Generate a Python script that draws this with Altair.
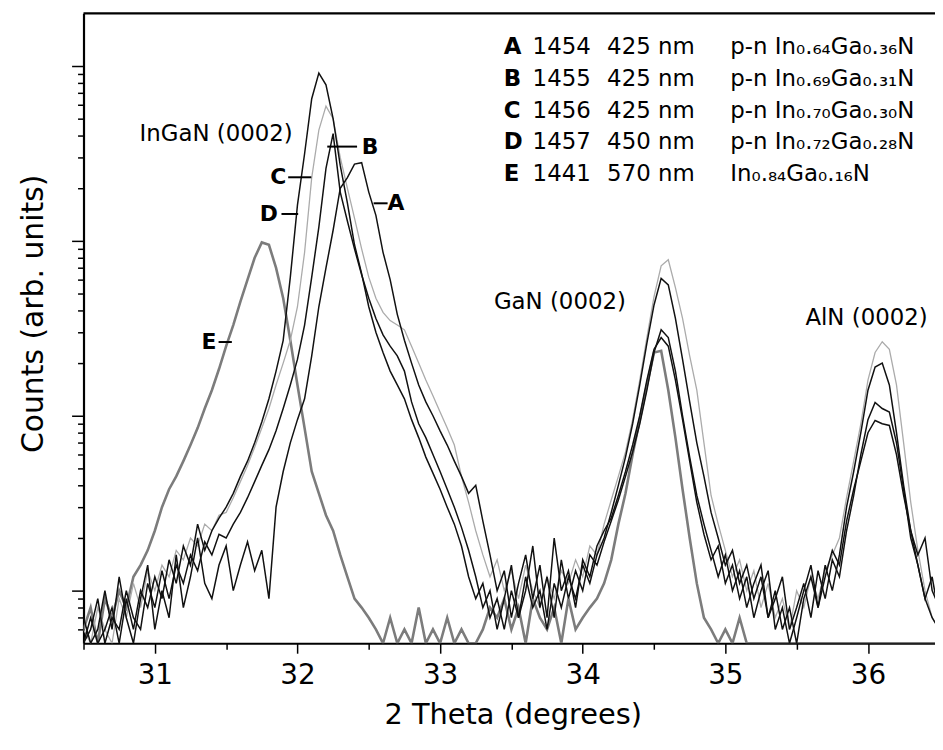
import altair as alt
import pandas as pd

# ---------------- data ----------------
theta = [
    30.50, 30.55, 30.60, 30.65, 30.70, 30.75, 30.80, 30.85, 30.90, 30.95,
    31.00, 31.05, 31.10, 31.15, 31.20, 31.25, 31.30, 31.35, 31.40, 31.45,
    31.50, 31.55, 31.60, 31.65, 31.70, 31.75, 31.80, 31.85, 31.90, 31.95,
    32.00, 32.05, 32.10, 32.15, 32.20, 32.25, 32.30, 32.35, 32.40, 32.45,
    32.50, 32.55, 32.60, 32.65, 32.70, 32.75, 32.80, 32.85, 32.90, 32.95,
    33.00, 33.05, 33.10, 33.15, 33.20, 33.25, 33.30, 33.35, 33.40, 33.45,
    33.50, 33.55, 33.60, 33.65, 33.70, 33.75, 33.80, 33.85, 33.90, 33.95,
    34.00, 34.05, 34.10, 34.15, 34.20, 34.25, 34.30, 34.35, 34.40, 34.45,
    34.50, 34.55, 34.60, 34.65, 34.70, 34.75, 34.80, 34.85, 34.90, 34.95,
    35.00, 35.05, 35.10, 35.15, 35.20, 35.25, 35.30, 35.35, 35.40, 35.45,
    35.50, 35.55, 35.60, 35.65, 35.70, 35.75, 35.80, 35.85, 35.90, 35.95,
    36.00, 36.05, 36.10, 36.15, 36.20, 36.25, 36.30, 36.35, 36.40, 36.45,
    36.50,
]

counts_A = [
    7, 5, 6, 10, 6, 12, 7, 5, 9, 14,
    6, 10, 7, 16, 8, 12, 20, 11, 9, 14,
    18, 10, 14, 19, 13, 17, 9, 30, 48, 70,
    95, 125, 220, 420, 700, 1150, 2000, 2300, 2750, 2800,
    1900, 1400, 860, 600, 380, 270, 200, 150, 120, 100,
    82, 68, 55, 45, 36, 40, 25, 16, 10, 13,
    7, 11, 16, 9, 14, 7, 20, 10, 13, 8,
    15, 12, 18, 22, 26, 35, 48, 68, 100, 160,
    240, 280, 250, 160, 95, 55, 32, 21, 15, 18,
    11, 14, 9, 12, 7, 10, 13, 6, 8, 5,
    7, 10, 14, 8, 12, 17, 14, 25, 38, 55,
    80, 94, 90, 88, 60, 35, 22, 16, 20, 10,
    8,
]

counts_B = [
    5, 6, 9, 5, 7, 6, 10, 7, 6, 11,
    8, 13, 9, 14, 11, 16, 13, 19, 16, 21,
    20, 24, 28, 34, 42, 52, 64, 82, 110, 150,
    210, 330, 620, 1200, 2600, 4100, 1900, 1300, 900, 640,
    470, 360, 290, 250, 220, 180, 120, 90, 75, 60,
    48, 38, 30, 23, 17, 12, 8, 10, 6, 9,
    14, 7, 10, 18, 8, 12, 7, 15, 9, 13,
    10, 16, 14, 19, 25, 33, 45, 62, 90, 140,
    230, 310, 280, 180, 100, 58, 35, 24, 17, 12,
    16, 10, 13, 8, 11, 14, 7, 9, 12, 6,
    8, 11, 7, 13, 9, 15, 12, 22, 35, 60,
    95, 119, 110, 105, 70, 38, 20, 14, 9, 12,
    7,
]

counts_C = [
    6, 5, 8, 6, 5, 9, 7, 11, 8, 13,
    10, 14, 12, 17, 15, 20, 18, 24, 22, 27,
    28, 34, 42, 52, 66, 85, 110, 150, 200, 270,
    420, 860, 2300, 4300, 5900, 5000, 3000, 2000, 1350, 900,
    620, 470, 390, 350, 330, 310, 250, 200, 160, 130,
    105, 85, 68, 45, 32, 22, 16, 12, 15, 10,
    13, 9, 14, 10, 8, 12, 9, 13, 11, 15,
    12, 18, 16, 24, 33, 45, 62, 95, 160, 280,
    480, 720, 780, 540, 360, 220, 140, 70, 35, 24,
    17, 12, 15, 10, 13, 8, 11, 7, 9, 6,
    10, 8, 12, 9, 13, 16, 20, 34, 55, 90,
    160, 230, 265, 240, 150, 70, 32, 17, 10, 7,
    6,
]

counts_D = [
    5, 7, 5, 6, 8, 5, 9, 6, 10, 8,
    12, 9, 15, 11, 18, 14, 24, 17, 22, 26,
    30, 36, 45, 55, 70, 92, 125, 180, 270, 620,
    1600, 3150, 6500, 9100, 7800, 5000, 2700, 1650, 950, 650,
    420, 300, 230, 180, 150, 125, 95, 75, 58, 47,
    38, 30, 24, 18, 12, 9, 11, 7, 9, 6,
    10, 7, 12, 8, 10, 6, 11, 8, 12, 9,
    14, 11, 16, 20, 28, 40, 58, 90, 150, 260,
    430, 610, 560, 360, 210, 120, 70, 45, 28, 20,
    14, 17, 11, 14, 9, 12, 7, 10, 6, 8,
    5, 9, 12, 8, 14, 10, 16, 30, 48, 80,
    140, 190, 200, 150, 80, 40, 22, 14, 9, 7,
    6,
]

counts_E = [
    6, 8, 5, 9, 7, 10, 8, 12, 14, 17,
    22, 30, 38, 45, 55, 68, 85, 110, 140, 185,
    250, 330, 450, 600, 800, 980, 950, 700, 470, 270,
    150, 85, 48, 36, 27, 22, 16, 12, 9, 8,
    7, 6, 5, 7, 5, 6, 5, 8, 5, 6,
    5, 7, 5, 6, 5, 5, 6, 8, 7, 9,
    6, 8, 5, 9, 7, 6, 8, 5, 9, 6,
    7, 8, 9, 11, 15, 24, 36, 60, 95, 150,
    230, 235, 140, 75, 38, 20, 11, 7, 6, 5,
    6, 5, 7, 5, 5, 5, 5, 5, 5, 5,
    5, 5, 5, 5, 5, 5, 5, 5, 5, 5,
    5, 5, 5, 5, 5, 5, 5, 5, 5, 5,
    5,
]

series_names = ["E", "C", "A", "B", "D"]          # drawing order
series_values = {"A": counts_A, "B": counts_B, "C": counts_C,
                 "D": counts_D, "E": counts_E}

# curve labels and leader lines
curve_letters = ["A", "B", "C", "D", "E"]
curve_label_theta = [32.69, 32.51, 31.865, 31.80, 31.38]
curve_label_counts = [1640, 3460, 2310, 1425, 264]
leader_from = [32.534, 32.209, 31.935, 31.888, 31.447]
leader_to = [32.632, 32.418, 32.097, 32.005, 31.540]

# peak names
peak_names = ["InGaN (0002)", "GaN (0002)", "AlN (0002)"]
peak_theta = [31.43, 33.84, 35.99]
peak_counts = [4060, 444, 361]

# legend table
legend_letters = ["A", "B", "C", "D", "E"]
legend_samples = ["1454", "1455", "1456", "1457", "1441"]
legend_wavelengths = ["425 nm", "425 nm", "425 nm", "450 nm", "570 nm"]
legend_formulas = [
    "p-n In\u2080.\u2086\u2084Ga\u2080.\u2083\u2086N",
    "p-n In\u2080.\u2086\u2089Ga\u2080.\u2083\u2081N",
    "p-n In\u2080.\u2087\u2080Ga\u2080.\u2083\u2080N",
    "p-n In\u2080.\u2087\u2082Ga\u2080.\u2082\u2088N",
    "In\u2080.\u2088\u2084Ga\u2080.\u2081\u2086N",
]

# ---------------- styling / layout ----------------
FONT = "DejaVu Sans"
PLOT_W = 857
PLOT_H = 634
X_DOMAIN = [30.5, 36.47]
Y_DOMAIN = [5, 20000]
colors = {"A": "#111111", "B": "#111111", "C": "#ababab", "D": "#111111", "E": "#7c7c7c"}
widths = {"A": 1.5, "B": 1.5, "C": 1.3, "D": 1.5, "E": 2.6}

x_ticks = [30.5, 31.0, 31.5, 32.0, 32.5, 33.0, 33.5, 34.0, 34.5, 35.0, 35.5, 36.0]
y_ticks = [6, 7, 8, 9, 10, 20, 30, 40, 50, 60, 70, 80, 90,
           100, 200, 300, 400, 500, 600, 700, 800, 900,
           1000, 2000, 3000, 4000, 5000, 6000, 7000, 8000, 9000, 10000]

x_axis = alt.Axis(
    values=x_ticks,
    labelExpr="datum.value % 1 === 0 ? format(datum.value, 'd') : ''",
    grid=False, domainColor="black", domainWidth=2.2, tickColor="black", tickWidth=1.5,
    tickSize={"condition": {"test": "datum.value % 1 === 0", "value": 10}, "value": 6},
    labelFont=FONT, labelFontSize=28, labelColor="black", labelPadding=8,
    labelFlush=False, labelOverlap=False, labelBound=False,
    titleFont=FONT, titleFontSize=29, titleFontWeight="normal", titleColor="black",
    titleX=432, titleY=81, titleBaseline="alphabetic", titleAlign="center",
)
y_axis = alt.Axis(
    values=y_ticks, labels=False, grid=False,
    domainColor="black", domainWidth=2.2, tickColor="black", tickWidth=1.5,
    tickSize={"condition": {"test": "indexof([10, 100, 1000, 10000], datum.value) >= 0",
                            "value": 12}, "value": 6},
    titleFont=FONT, titleFontSize=30, titleFontWeight="normal", titleColor="black",
    titleAngle=270, titleX=-50, titleY=302, titleBaseline="middle", titleAlign="center",
)


def xenc(field):
    return alt.X(f"{field}:Q", scale=alt.Scale(domain=X_DOMAIN, nice=False, zero=False),
                 axis=x_axis, title="2 Theta (degrees)")


def yenc(field):
    return alt.Y(f"{field}:Q", scale=alt.Scale(type="log", domain=Y_DOMAIN, nice=False),
                 axis=y_axis, title="Counts (arb. units)")


layers = []
for name in series_names:
    df = pd.DataFrame({"theta": theta, "counts": series_values[name]})
    layers.append(
        alt.Chart(df).mark_line(color=colors[name], strokeWidth=widths[name], clip=True,
                                strokeJoin="miter")
        .encode(x=xenc("theta"), y=yenc("counts"))
    )

# leader lines
lead_df = pd.DataFrame({"x1": leader_from, "x2": leader_to, "counts": curve_label_counts})
layers.append(
    alt.Chart(lead_df).mark_rule(color="black", strokeWidth=2)
    .encode(x=xenc("x1"), x2="x2:Q", y=yenc("counts"))
)

# curve letters
lab_df = pd.DataFrame({"theta": curve_label_theta, "counts": curve_label_counts,
                       "label": curve_letters})
layers.append(
    alt.Chart(lab_df).mark_text(font=FONT, fontSize=22, fontWeight="bold", color="black",
                                align="center", baseline="middle")
    .encode(x=xenc("theta"), y=yenc("counts"), text="label:N")
)

# peak names
peak_df = pd.DataFrame({"theta": peak_theta, "counts": peak_counts, "label": peak_names})
layers.append(
    alt.Chart(peak_df).mark_text(font=FONT, fontSize=23, color="black",
                                 align="center", baseline="middle")
    .encode(x=xenc("theta"), y=yenc("counts"), text="label:N")
)

# legend block (multi-line text columns)
LEG_TOP = 41
LEG_LINE = 32
legend_cols = [
    (legend_letters, 423, "bold"),
    (legend_samples, 452, "normal"),
    (legend_wavelengths, 527, "normal"),
    (legend_formulas, 651, "normal"),
]
for col_values, col_x, weight in legend_cols:
    cdf = pd.DataFrame({"t": ["\n".join(col_values)]})
    layers.append(
        alt.Chart(cdf).mark_text(font=FONT, fontSize=23, fontWeight=weight, color="black",
                                 align="left", baseline="alphabetic", lineBreak="\n",
                                 lineHeight=LEG_LINE)
        .encode(x=alt.value(col_x), y=alt.value(LEG_TOP), text="t:N")
    )

# top frame line
layers.append(
    alt.Chart(pd.DataFrame({"d": [0]})).mark_rule(color="black", strokeWidth=2.2)
    .encode(x=alt.value(0), x2=alt.value(PLOT_W), y=alt.value(0))
)

chart = (
    alt.layer(*layers)
    .properties(width=PLOT_W, height=PLOT_H,
                autosize=alt.AutoSizeParams(type="none"),
                padding={"left": 76, "top": 3, "right": 0, "bottom": 100},
                background="white")
    .configure_view(stroke=None)
)

chart.save("out.html", embed_options={"renderer": "svg", "actions": False})
